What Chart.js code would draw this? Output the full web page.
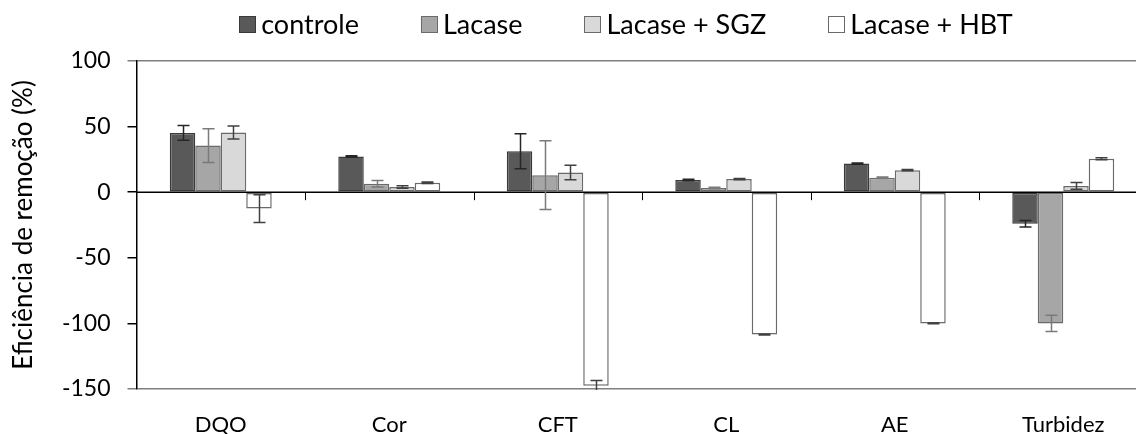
<!DOCTYPE html>
<html>
<head>
<meta charset="utf-8">
<script src="https://cdn.jsdelivr.net/npm/chart.js@4.4.0/dist/chart.umd.min.js"></script>
<style>
  html, body { margin: 0; padding: 0; background: #fff; overflow: hidden; }
  #wrap { position: relative; width: 1160px; height: 434px; }
</style>
</head>
<body>
<div id="wrap"><canvas id="chart" width="1160" height="434"></canvas></div>
<script>
// removal efficiency per parameter, mean and +/- deviation
const categories = ['DQO', 'Cor', 'CFT', 'CL', 'AE', 'Turbidez'];
const seriesNames = ['controle', 'Lacase', 'Lacase + SGZ', 'Lacase + HBT'];

const controle    = [45.2, 27.2, 31.2, 9.3, 21.8, -24.0];
const controleErr = [5.6, 0.5, 13.3, 0.5, 0.5, 2.5];
const lacase      = [35.5, 6.5, 13.0, 3.2, 11.0, -100.0];
const lacaseErr   = [12.8, 2.5, 26.2, 0.5, 0.5, 6.2];
const lacaseSgz   = [45.5, 4.0, 15.0, 10.0, 16.8, 4.8];
const lacaseSgzErr = [5.0, 1.0, 5.6, 0.5, 0.5, 2.6];
const lacaseHbt   = [-12.5, 7.2, -147.5, -108.5, -100.0, 25.5];
const lacaseHbtErr = [10.6, 0.5, 4.0, 0.3, 0.3, 0.7];

const yTicks = [100, 50, 0, -50, -100, -150];

const FONT = 'Lato';
const fills   = ['#595959', '#a6a6a6', '#d9d9d9', '#ffffff'];
const borders = ['#3a3a3a', '#6a6a6a', '#6a6a6a', '#6a6a6a'];
const errColors = ['#262626', '#7a7a7a', '#404040', '#404040'];

const seriesValues = [controle, lacase, lacaseSgz, lacaseHbt];
const seriesErrors = [controleErr, lacaseErr, lacaseSgzErr, lacaseHbtErr];

// zero line with small category ticks, then the error bars on top
const errorBars = {
  id: 'errorBars',
  afterDatasetsDraw(chart) {
    const { ctx, chartArea: a, scales: { x, y } } = chart;
    const y0 = y.getPixelForValue(0);
    ctx.save();
    ctx.beginPath();
    ctx.rect(a.left, a.top - 2, a.right - a.left, a.bottom - a.top + 3);
    ctx.clip();

    ctx.strokeStyle = '#000';
    ctx.lineWidth = 1.5;
    ctx.beginPath();
    ctx.moveTo(a.left, y0);
    ctx.lineTo(a.right, y0);
    ctx.stroke();

    ctx.lineWidth = 1;
    const step = x.getPixelForTick(1) - x.getPixelForTick(0);
    for (let i = 1; i <= categories.length; i++) {
      const bx = Math.round(x.getPixelForTick(i - 1) + step / 2) + 0.5;
      ctx.beginPath();
      ctx.moveTo(bx, y0);
      ctx.lineTo(bx, y0 + 8);
      ctx.stroke();
    }

    chart.data.datasets.forEach((ds, i) => {
      const meta = chart.getDatasetMeta(i);
      ctx.strokeStyle = errColors[i];
      ctx.lineWidth = 1.5;
      meta.data.forEach((bar, j) => {
        const v = ds.data[j];
        const e = seriesErrors[i][j];
        const cx = Math.round(bar.x) + 0.5;
        const yt = y.getPixelForValue(v + e);
        const yb = y.getPixelForValue(v - e);
        ctx.beginPath();
        ctx.moveTo(cx, yt);
        ctx.lineTo(cx, yb);
        ctx.moveTo(cx - 6, yt);
        ctx.lineTo(cx + 6, yt);
        ctx.moveTo(cx - 6, yb);
        ctx.lineTo(cx + 6, yb);
        ctx.stroke();
      });
    });
    ctx.restore();
  }
};

// one-row legend above the plot
const seriesLegend = {
  id: 'seriesLegend',
  afterDraw(chart, args, opts) {
    const { ctx } = chart;
    const box = 16, gapText = 6, gapItem = 62;
    ctx.save();
    ctx.font = `${opts.size}px ${FONT}`;
    ctx.textBaseline = 'middle';
    ctx.textAlign = 'left';
    const items = chart.data.datasets.map(ds => ({ ds, w: ctx.measureText(ds.label).width }));
    const total = items.reduce((s, it) => s + box + gapText + it.w, 0) + gapItem * (items.length - 1);
    let px = opts.centerX - total / 2;
    const cy = opts.y;
    items.forEach(({ ds, w }) => {
      ctx.fillStyle = ds.backgroundColor;
      ctx.fillRect(px, cy - box / 2, box, box);
      ctx.strokeStyle = ds.borderColor;
      ctx.lineWidth = 1;
      ctx.strokeRect(Math.round(px) + 0.5, Math.round(cy - box / 2) + 0.5, box, box);
      ctx.fillStyle = '#000';
      ctx.fillText(ds.label, px + box + gapText, cy + 1);
      px += box + gapText + w + gapItem;
    });
    ctx.restore();
  }
};

const isEdge = v => v === yTicks[0] || v === yTicks[yTicks.length - 1];

new Chart(document.getElementById('chart'), {
  type: 'bar',
  data: {
    labels: categories,
    datasets: seriesNames.map((name, i) => ({
      label: name,
      data: seriesValues[i],
      backgroundColor: fills[i],
      borderColor: borders[i],
      borderWidth: 1.5,
      borderSkipped: false,
      categoryPercentage: 0.605,
      barPercentage: 1.0
    }))
  },
  options: {
    responsive: false,
    animation: false,
    devicePixelRatio: 1,
    layout: { padding: { top: 61, right: 12.5, left: 0, bottom: 0 } },
    plugins: {
      legend: { display: false },
      tooltip: { enabled: false },
      seriesLegend: { centerX: 626, y: 24, size: 27 }
    },
    scales: {
      x: {
        grid: { display: false, drawTicks: false },
        border: { display: false },
        ticks: { font: { family: FONT, size: 22 }, color: '#000', padding: 23 },
        afterFit(s) { s.height = 45; }
      },
      y: {
        min: -150,
        max: 100,
        afterBuildTicks(s) { s.ticks = yTicks.map(v => ({ value: v })); },
        ticks: { font: { family: FONT, size: 23 }, color: '#000', padding: 17 },
        grid: {
          color: c => (isEdge(c.tick.value) ? '#7f7f7f' : 'rgba(0,0,0,0)'),
          tickColor: c => (isEdge(c.tick.value) ? '#7f7f7f' : '#000'),
          tickLength: 9,
          lineWidth: 1.5
        },
        border: { display: true, color: '#000', width: 1.5 },
        title: {
          display: true,
          text: 'Eficiência de remoção (%)',
          font: { family: FONT, size: 26 },
          color: '#000',
          padding: { top: 8, bottom: 0 }
        },
        afterFit(s) { s.width = 136.5; }
      }
    }
  },
  plugins: [errorBars, seriesLegend]
});
</script>
</body>
</html>
